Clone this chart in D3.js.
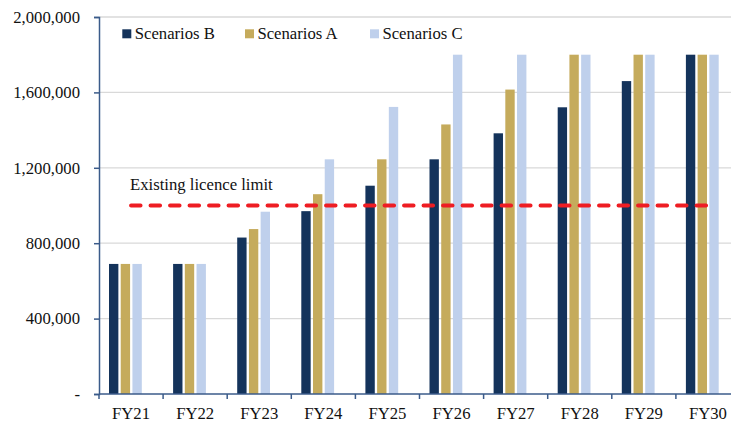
<!DOCTYPE html>
<html>
<head>
<meta charset="utf-8">
<script src="https://cdn.jsdelivr.net/npm/d3@7"></script>
<style>
  body { margin: 0; background: #fff; }
  svg { display: block; font-family: "Liberation Serif", "Times New Roman", serif; }
</style>
</head>
<body>
<svg id="chart" width="731" height="424"></svg>
<script>
// data
const years = ["FY21","FY22","FY23","FY24","FY25","FY26","FY27","FY28","FY29","FY30"]
const seriesNames = ["Scenarios B","Scenarios A","Scenarios C"]
const scenarioB = [690000, 690000, 830000, 970000, 1105000, 1245000, 1383000, 1521000, 1660000, 1800000]
const scenarioA = [690000, 690000, 875000, 1060000, 1245000, 1430000, 1615000, 1800000, 1800000, 1800000]
const scenarioC = [690000, 690000, 967000, 1245000, 1523000, 1800000, 1800000, 1800000, 1800000, 1800000]
const licenceLimit = 1000000
const licenceLabel = "Existing licence limit"
const yTicks = [0, 400000, 800000, 1200000, 1600000, 2000000]

const colors = { "Scenarios B": "#14335B", "Scenarios A": "#C5AB5C", "Scenarios C": "#BFD0EC" }
const seriesVals = { "Scenarios B": scenarioB, "Scenarios A": scenarioA, "Scenarios C": scenarioC }

const svg = d3.select("#chart")
const mLeft = 99, mRight = 740, mTop = 17, mBottom = 394
const fs = "16.7px"

const x = d3.scaleBand().domain(years).range([mLeft, mRight]).padding(0)
const bw = x.bandwidth()
const xSub = d3.scaleBand().domain(seriesNames)
    .range([bw * 10 / 64.1, bw * 42.8 / 64.1])
    .paddingInner(0.2).paddingOuter(0)
const y = d3.scaleLinear().domain([0, 2000000]).range([mBottom, mTop])

// gridlines
svg.append("g")
    .selectAll("line")
    .data(yTicks.filter(d => d > 0))
    .join("line")
    .attr("x1", mLeft).attr("x2", 731)
    .attr("y1", d => y(d)).attr("y2", d => y(d))
    .attr("stroke", "#D9D9D9").attr("stroke-width", 1.3)

// bars
const groups = svg.append("g")
    .selectAll("g")
    .data(years)
    .join("g")
    .attr("transform", d => `translate(${x(d)},0)`)
groups.selectAll("rect")
    .data((d, i) => seriesNames.map(s => ({ s, v: seriesVals[s][i] })))
    .join("rect")
    .attr("x", d => xSub(d.s))
    .attr("width", xSub.bandwidth())
    .attr("y", d => y(d.v))
    .attr("height", d => y(0) - y(d.v))
    .attr("fill", d => colors[d.s])

// licence limit line (line series through category centres)
svg.append("path")
    .datum(years)
    .attr("fill", "none")
    .attr("stroke", "#EE1D23")
    .attr("stroke-width", 4)
    .attr("stroke-linecap", "round")
    .attr("stroke-dasharray", "9.5 10")
    .attr("d", d3.line().x(d => x(d) + bw / 2).y(() => y(licenceLimit)))

svg.append("text")
    .attr("x", 130).attr("y", 190)
    .attr("font-size", fs).attr("fill", "#111")
    .text(licenceLabel)

// y axis
const yAxis = svg.append("g")
    .attr("transform", `translate(${mLeft},0)`)
    .call(d3.axisLeft(y).tickValues(yTicks).tickSize(5).tickPadding(14)
        .tickFormat(d => d === 0 ? "-" : d3.format(",")(d)))
yAxis.select(".domain").attr("stroke", "#3B5B8A").attr("stroke-width", 1.5)
yAxis.selectAll(".tick line").attr("stroke", "#3B5B8A").attr("stroke-width", 1.5)
yAxis.selectAll("text").attr("font-size", fs).attr("font-family", "Liberation Serif, serif").attr("fill", "#111")

// x axis
const xAxisG = svg.append("g")
xAxisG.append("line")
    .attr("x1", mLeft).attr("x2", mRight)
    .attr("y1", mBottom).attr("y2", mBottom)
    .attr("stroke", "#3B5B8A").attr("stroke-width", 1.5)
xAxisG.selectAll("line.tk")
    .data(years)
    .join("line")
    .attr("class", "tk")
    .attr("x1", d => x(d)).attr("x2", d => x(d))
    .attr("y1", mBottom).attr("y2", mBottom + 5)
    .attr("stroke", "#3B5B8A").attr("stroke-width", 1.5)
xAxisG.selectAll("text")
    .data(years)
    .join("text")
    .attr("x", d => x(d) + bw / 2)
    .attr("y", 419)
    .attr("text-anchor", "middle")
    .attr("font-size", fs).attr("fill", "#111")
    .text(d => d)

// legend
const legendX = [122.3, 245, 370]
const legend = svg.append("g")
    .selectAll("g")
    .data(seriesNames)
    .join("g")
    .attr("transform", (d, i) => `translate(${legendX[i]},0)`)
legend.append("rect")
    .attr("x", 0).attr("y", 29.3)
    .attr("width", 9).attr("height", 9)
    .attr("fill", d => colors[d])
legend.append("text")
    .attr("x", 12.4).attr("y", 39)
    .attr("font-size", fs).attr("fill", "#111")
    .text(d => d)
</script>
</body>
</html>
